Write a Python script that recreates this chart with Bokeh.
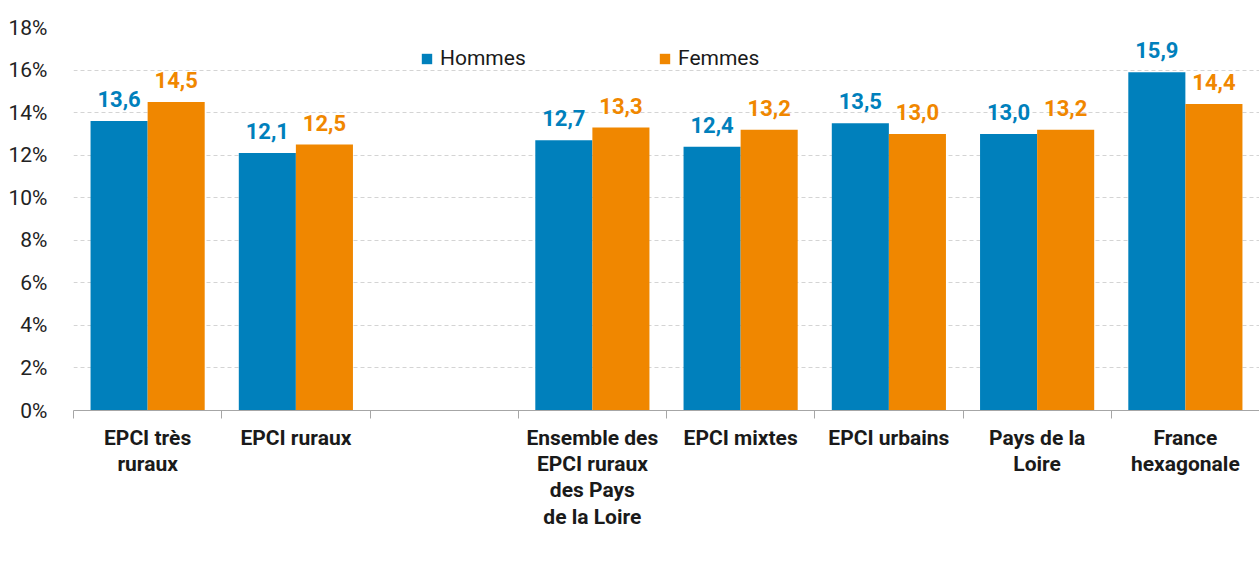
from bokeh.plotting import figure
from bokeh.models import (Range1d, FixedTicker, ColumnDataSource, LabelSet,
                          Legend, LegendItem, PrintfTickFormatter)
from bokeh.transform import dodge
from bokeh.embed import file_html
from bokeh.resources import INLINE
from bokeh.core.properties import value

# ---- data ----
categories = ["EPCI très\nruraux", "EPCI ruraux", "",
              "Ensemble des\nEPCI ruraux\ndes Pays\nde la Loire",
              "EPCI mixtes", "EPCI urbains", "Pays de la\nLoire",
              "France\nhexagonale"]
hommes = [13.6, 12.1, None, 12.7, 12.4, 13.5, 13.0, 15.9]
femmes = [14.5, 12.5, None, 13.3, 13.2, 13.0, 13.2, 14.4]
series_names = ["Hommes", "Femmes"]
y_ticks = [0, 2, 4, 6, 8, 10, 12, 14, 16, 18]

BLUE = "#0080BC"
ORANGE = "#F08700"
FONT = "Roboto"

n = len(categories)


def make_source(vals):
    xs = [i for i, v in enumerate(vals) if v is not None]
    ys = [v for v in vals if v is not None]
    labels = [f"{v:.1f}".replace(".", ",") for v in ys]
    return ColumnDataSource(dict(x=xs, y=ys, label=labels))


src_h = make_source(hommes)
src_f = make_source(femmes)

p = figure(frame_width=1186, frame_height=383, output_backend="svg",
           toolbar_location=None,
           x_range=Range1d(-0.5, n - 0.5), y_range=Range1d(0, 18),
           min_border_left=73, min_border_top=27, min_border_right=0,
           min_border_bottom=0)
p.outline_line_color = None
p.background_fill_color = "white"
p.border_fill_color = "white"

off = 0.1925
bw = 0.385
r_h = p.vbar(x=dodge("x", -off, range=p.x_range), top="y", width=bw,
             source=src_h, fill_color=BLUE, line_color=None)
r_f = p.vbar(x=dodge("x", off, range=p.x_range), top="y", width=bw,
             source=src_f, fill_color=ORANGE, line_color=None)

for src, dx, col in ((src_h, -off, BLUE), (src_f, off, ORANGE)):
    p.add_layout(LabelSet(x=dodge("x", dx, range=p.x_range), y="y", text="label",
                          source=src, text_align="center",
                          text_baseline="alphabetic", y_offset=14,
                          text_font=value(FONT), text_font_style="bold",
                          text_font_size="22px", text_color=col))

# y axis
p.yaxis.ticker = FixedTicker(ticks=y_ticks)
p.yaxis.formatter = PrintfTickFormatter(format="%d%%")
p.yaxis.axis_line_color = None
p.yaxis.major_tick_line_color = None
p.yaxis.minor_tick_line_color = None
p.yaxis.major_label_standoff = 20
p.yaxis.major_label_text_font = FONT
p.yaxis.major_label_text_font_size = "21px"
p.yaxis.major_label_text_color = "#222222"

p.ygrid.ticker = FixedTicker(ticks=y_ticks)
p.ygrid.grid_line_color = "#d4d4d4"
p.ygrid.grid_line_dash = "4 3"
p.xgrid.visible = False

# x axis
p.xaxis.ticker = FixedTicker(ticks=list(range(n)),
                             minor_ticks=[i - 0.5 for i in range(n + 1)])
p.xaxis.major_label_overrides = {i: c for i, c in enumerate(categories)}
p.xaxis.axis_line_color = "#a6a6a6"
p.xaxis.major_tick_line_color = None
p.xaxis.minor_tick_line_color = "#a6a6a6"
p.xaxis.minor_tick_out = 8
p.xaxis.minor_tick_in = 0
p.xaxis.major_label_standoff = 7
p.xaxis.major_label_text_font = FONT
p.xaxis.major_label_text_font_style = "bold"
p.xaxis.major_label_text_font_size = "21px"
p.xaxis.major_label_text_line_height = 1.1
p.xaxis.major_label_text_color = "#1a1a1a"

legend = Legend(items=[LegendItem(label=series_names[0], renderers=[r_h]),
                       LegendItem(label=series_names[1], renderers=[r_f])],
                orientation="horizontal", location=(347, 340),
                glyph_width=13, glyph_height=13, label_standoff=7,
                label_width=88, spacing=130, padding=0, margin=0,
                border_line_color=None, background_fill_alpha=0,
                label_text_font=FONT, label_text_font_size="21px",
                label_text_color="#1a1a1a")
p.add_layout(legend, "center")

open("out.html", "w").write(file_html(p, INLINE))
